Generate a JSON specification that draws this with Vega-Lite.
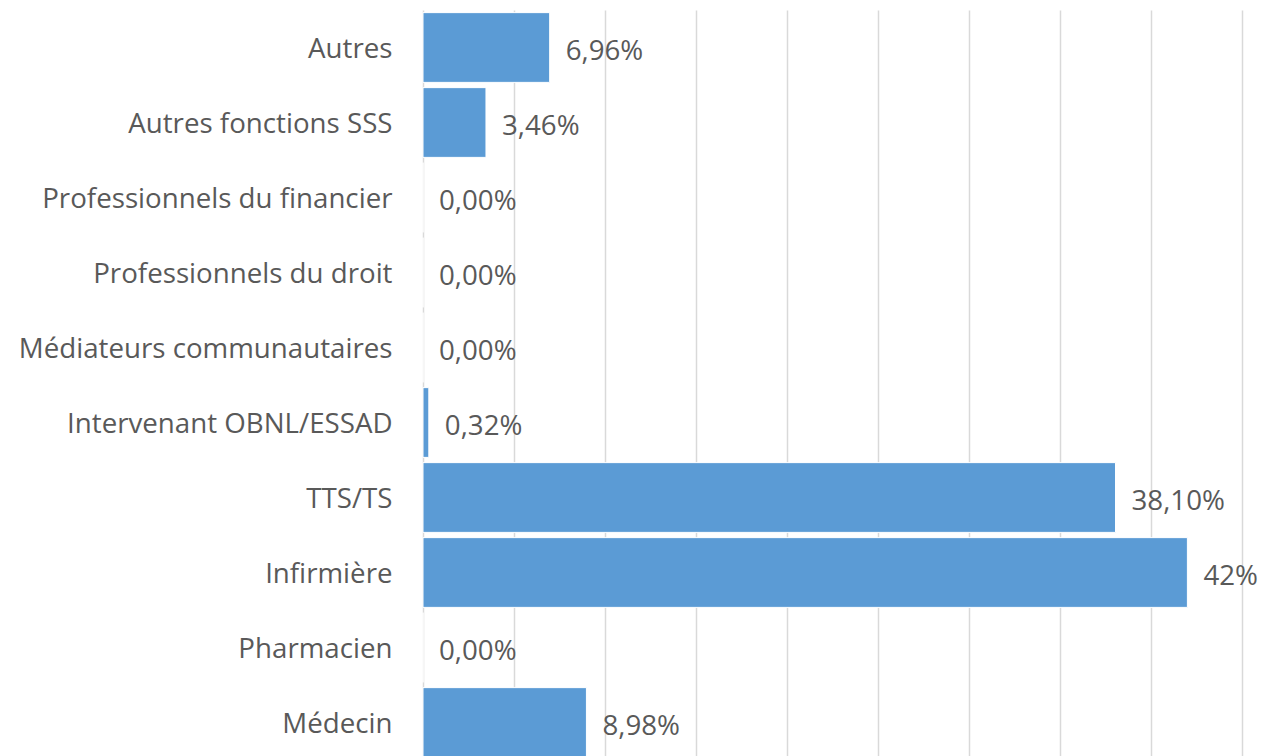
{
  "$schema": "https://vega.github.io/schema/vega-lite/v6.json",
  "width": 819,
  "height": 750,
  "autosize": {"type": "none"},
  "padding": {"left": 423, "top": 10, "right": 24, "bottom": 0},
  "background": "white",
  "config": {"view": {"stroke": null}, "font": "Open Sans"},
  "data": {
    "values": [
      {"cat": "Autres\u2002", "val": 6.96, "label": "6,96%"},
      {"cat": "Autres fonctions SSS", "val": 3.46, "label": "3,46%"},
      {"cat": "Professionnels du financier", "val": 0, "label": "0,00%"},
      {"cat": "Professionnels du droit", "val": 0, "label": "0,00%"},
      {"cat": "Médiateurs communautaires", "val": 0, "label": "0,00%"},
      {"cat": "Intervenant OBNL/ESSAD", "val": 0.32, "label": "0,32%"},
      {"cat": "TTS/TS", "val": 38.05, "label": "38,10%"},
      {"cat": "Infirmière", "val": 42, "label": "42%"},
      {"cat": "Pharmacien", "val": 0, "label": "0,00%"},
      {"cat": "Médecin", "val": 8.98, "label": "8,98%"}
    ]
  },
  "encoding": {
    "y": {
      "field": "cat",
      "type": "nominal",
      "sort": null,
      "scale": {"paddingInner": 0.07, "paddingOuter": 0.035},
      "axis": {
        "title": null,
        "ticks": false,
        "domain": false,
        "labelPadding": 31,
        "labelOffset": 2,
        "labelFontSize": 27.7,
        "labelColor": "#595959",
        "labelLimit": 0
      }
    }
  },
  "layer": [
    {
      "mark": {"type": "bar", "color": "#5B9BD5", "stroke": "#FFFFFF", "strokeWidth": 1},
      "encoding": {
        "x": {
          "field": "val",
          "type": "quantitative",
          "scale": {"domain": [0, 45], "nice": false},
          "axis": {
            "title": null,
            "labels": false,
            "ticks": false,
            "domain": false,
            "grid": true,
            "values": [0, 5, 10, 15, 20, 25, 30, 35, 40, 45],
            "gridColor": "#D9D9D9",
            "gridWidth": 1.5,
            "orient": "bottom"
          }
        }
      }
    },
    {
      "mark": {"type": "text", "align": "left", "baseline": "middle", "dx": 16, "dy": 4, "fontSize": 27.7, "color": "#595959"},
      "encoding": {
        "x": {"field": "val", "type": "quantitative"},
        "text": {"field": "label"}
      }
    }
  ]
}
